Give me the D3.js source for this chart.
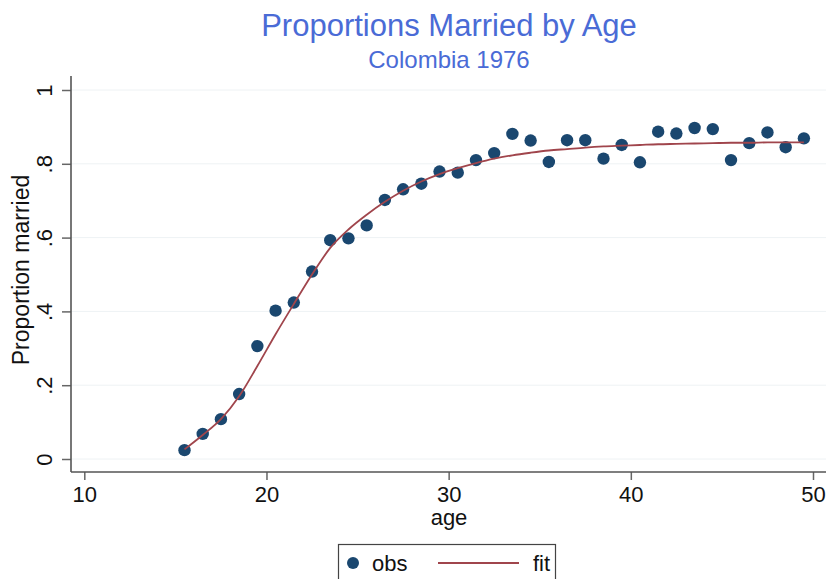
<!DOCTYPE html>
<html>
<head>
<meta charset="utf-8">
<script src="https://cdn.jsdelivr.net/npm/d3@7"></script>
<style>
body{margin:0;background:#fff}
text{font-family:"Liberation Sans",Arial,sans-serif}
</style>
</head>
<body>
<svg></svg>
<script>
// age groups (midpoints)
var ages = [15.5,16.5,17.5,18.5,19.5,20.5,21.5,22.5,23.5,24.5,25.5,26.5,27.5,28.5,29.5,30.5,31.5,32.5,33.5,34.5,35.5,36.5,37.5,38.5,39.5,40.5,41.5,42.5,43.5,44.5,45.5,46.5,47.5,48.5,49.5]
// observed proportion married
var obs = [0.024,0.068,0.108,0.176,0.306,0.402,0.424,0.508,0.593,0.598,0.633,0.702,0.731,0.746,0.779,0.776,0.810,0.829,0.881,0.863,0.805,0.864,0.864,0.814,0.851,0.804,0.887,0.882,0.897,0.894,0.810,0.856,0.885,0.845,0.869]
// fitted curve
var fit = [0.026,0.065,0.108,0.170,0.252,0.338,0.420,0.500,0.572,0.622,0.662,0.697,0.727,0.752,0.772,0.788,0.802,0.814,0.823,0.830,0.836,0.840,0.844,0.847,0.849,0.851,0.853,0.854,0.855,0.856,0.857,0.857,0.858,0.858,0.858]
var xTicks = [10,20,30,40,50]
var yTicks = [0,0.2,0.4,0.6,0.8,1]

var screen = {width:826,height:579}

var svg = d3.select("svg")
    .attr("width",screen.width)
    .attr("height",screen.height)

var xScale = d3.scaleLinear()
    .domain([10,50])
    .range([84.3,813])
var yScale = d3.scaleLinear()
    .domain([0,1])
    .range([459,90])

var plot = {left:71,right:826,top:76,bottom:472}

// gridlines
svg.append("g")
    .selectAll("line")
    .data(yTicks)
    .enter()
    .append("line")
    .attr("x1",plot.left)
    .attr("x2",plot.right)
    .attr("y1",function(d){return yScale(d)})
    .attr("y2",function(d){return yScale(d)})
    .style("stroke","#eef2f4")
    .style("stroke-width",1)

// titles
svg.append("text")
    .attr("x",449)
    .attr("y",36)
    .attr("text-anchor","middle")
    .style("font-size","31px")
    .style("fill","#4a6bd6")
    .text("Proportions Married by Age")
svg.append("text")
    .attr("x",449)
    .attr("y",68)
    .attr("text-anchor","middle")
    .style("font-size","24px")
    .style("fill","#4a6bd6")
    .text("Colombia 1976")

// axes
var xAxis = d3.axisBottom(xScale)
    .tickValues(xTicks)
    .tickSize(8)
    .tickSizeOuter(0)
var yAxis = d3.axisLeft(yScale)
    .tickValues(yTicks)
    .tickSize(9)
    .tickSizeOuter(0)
    .tickFormat(function(d){
        if(d==0){return "0"}
        if(d==1){return "1"}
        return d3.format(".1f")(d).replace("0.",".")
    })

var gx = svg.append("g")
    .attr("transform","translate(0,"+plot.bottom+")")
    .call(xAxis)
gx.select(".domain").remove()
gx.selectAll("line").style("stroke","#666").style("stroke-width",1.5)
gx.selectAll("text")
    .attr("y",14)
    .style("font-size","22px")
    .style("fill","#111")
    .attr("font-family",null)

var gy = svg.append("g")
    .attr("transform","translate("+plot.left+",0)")
    .call(yAxis)
gy.select(".domain").remove()
gy.selectAll("line").style("stroke","#666").style("stroke-width",1.5)
gy.selectAll("text")
    .attr("x",null)
    .attr("dy",null)
    .attr("text-anchor","middle")
    .attr("transform","translate(-19,0) rotate(-90)")
    .style("font-size","22px")
    .style("fill","#111")
    .attr("font-family",null)

// axis lines
svg.append("line")
    .attr("x1",plot.left).attr("x2",plot.left)
    .attr("y1",plot.top).attr("y2",plot.bottom)
    .style("stroke","#555").style("stroke-width",1.6)
svg.append("line")
    .attr("x1",plot.left).attr("x2",plot.right)
    .attr("y1",plot.bottom).attr("y2",plot.bottom)
    .style("stroke","#555").style("stroke-width",1.6)

// axis titles
svg.append("text")
    .attr("x",449)
    .attr("y",525)
    .attr("text-anchor","middle")
    .style("font-size","22px")
    .style("fill","#111")
    .text("age")
svg.append("text")
    .attr("transform","translate(29,270) rotate(-90)")
    .attr("text-anchor","middle")
    .style("font-size","23px")
    .style("fill","#111")
    .text("Proportion married")

// fit line
var line = d3.line()
    .x(function(d,i){return xScale(ages[i])})
    .y(function(d){return yScale(d)})
    .curve(d3.curveMonotoneX)

// points
svg.append("g")
    .selectAll("circle")
    .data(obs)
    .enter()
    .append("circle")
    .attr("cx",function(d,i){return xScale(ages[i])})
    .attr("cy",function(d){return yScale(d)})
    .attr("r",6.2)
    .style("fill","#1a476f")

svg.append("path")
    .datum(fit)
    .attr("d",line)
    .style("fill","none")
    .style("stroke","#a0454c")
    .style("stroke-width",1.8)

// legend
var legend = svg.append("g")
legend.append("rect")
    .attr("x",338.5)
    .attr("y",544.5)
    .attr("width",217)
    .attr("height",50)
    .style("fill","#fff")
    .style("stroke","#444")
    .style("stroke-width",1.2)
legend.append("circle")
    .attr("cx",353)
    .attr("cy",563)
    .attr("r",6)
    .style("fill","#1a476f")
legend.append("text")
    .attr("x",372)
    .attr("y",571)
    .style("font-size","22px")
    .style("fill","#111")
    .text("obs")
legend.append("line")
    .attr("x1",438).attr("x2",519)
    .attr("y1",563).attr("y2",563)
    .style("stroke","#a0454c")
    .style("stroke-width",1.8)
legend.append("text")
    .attr("x",533)
    .attr("y",571)
    .style("font-size","22px")
    .style("fill","#111")
    .text("fit")
</script>
</body>
</html>
